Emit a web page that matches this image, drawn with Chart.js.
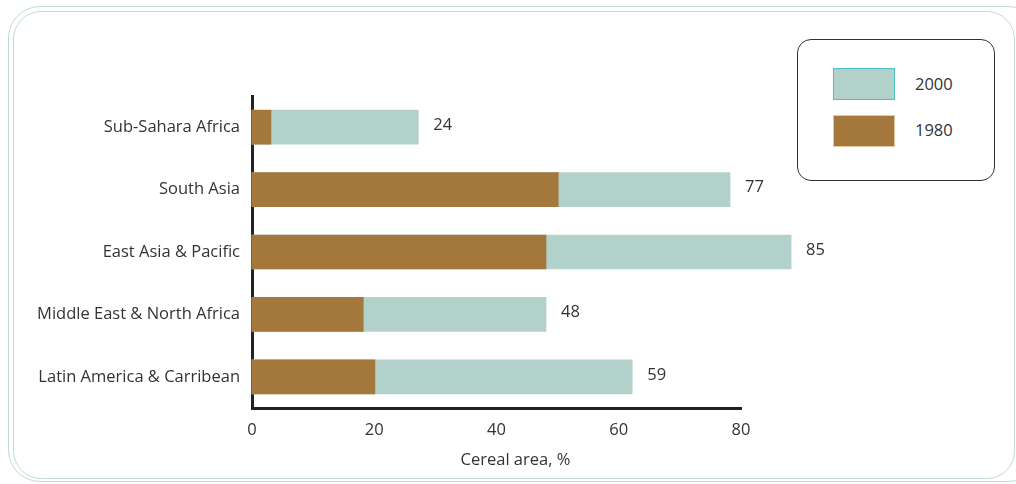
<!DOCTYPE html>
<html>
<head>
<meta charset="utf-8">
<script src="https://cdn.jsdelivr.net/npm/chart.js@4/dist/chart.umd.min.js"></script>
<style>
  html, body { margin: 0; padding: 0; background: #fff; }
  #wrap { position: relative; width: 1016px; height: 484px; overflow: hidden; font-family: "Open Sans", sans-serif; }
  .frame { position: absolute; border: 1.5px solid #bddcd5; border-radius: 32px; }
  #outer { left: 8px; top: 6px; width: 1030px; height: 474px; }
  #inner { left: 13px; top: 11px; width: 1000px; height: 466px; border-radius: 28px; }
  #chart { position: absolute; left: 0; top: 0; }
  #legend { position: absolute; left: 797px; top: 39px; width: 196px; height: 140px;
            border: 1.5px solid #333; border-radius: 14px; background: #fff; }
  .sw { position: absolute; left: 35px; width: 60px; height: 30px; }
  .lab { position: absolute; left: 117px; font-size: 16.5px; color: #333; line-height: 22px; }
</style>
</head>
<body>
<div id="wrap">
  <div class="frame" id="outer"></div>
  <div class="frame" id="inner"></div>
  <canvas id="chart" width="1016" height="484"></canvas>
  <div id="legend"></div>
</div>
<script>
const categories = ['Sub-Sahara Africa', 'South Asia', 'East Asia & Pacific', 'Middle East & North Africa', 'Latin America & Carribean'];
const values2000 = [27.2, 78.2, 88.2, 48.1, 62.2];
const values1980 = [3.1, 50.1, 48.1, 18.2, 20.1];
const barLabels = ['24', '77', '85', '48', '59'];
const xTicks = [0, 20, 40, 60, 80];
const axisTitle = 'Cereal area, %';

const COLORS = {
  Y2000: '#b2d1ca',
  Y2000_EDGE: '#4dbdbd',
  Y1980: '#a4773c',
  TEXT: '#333333',
  AXIS: '#222222',
};
const FONT = '"Open Sans", sans-serif';
const FONT_SIZE = 16.5;

const series = [
  { label: '2000', data: values2000, color: COLORS.Y2000, edge: COLORS.Y2000_EDGE, order: 1 },
  { label: '1980', data: values1980, color: COLORS.Y1980, edge: '#e3c9a4', order: 0 },
];

// legend box
const legendEl = document.getElementById('legend');
series.forEach((s, i) => {
  const sw = document.createElement('div');
  sw.className = 'sw';
  sw.style.top = (28 + i * 47) + 'px';
  sw.style.background = s.color;
  sw.style.border = '1px solid ' + s.edge;
  legendEl.appendChild(sw);
  const lab = document.createElement('div');
  lab.className = 'lab';
  lab.style.top = (33 + i * 46) + 'px';
  lab.textContent = s.label;
  legendEl.appendChild(lab);
});

const valueLabels = {
  id: 'valueLabels',
  afterDatasetsDraw(chart) {
    const ctx = chart.ctx;
    const meta = chart.getDatasetMeta(0);
    ctx.save();
    ctx.font = FONT_SIZE + 'px ' + FONT;
    ctx.fillStyle = COLORS.TEXT;
    ctx.textAlign = 'left';
    ctx.textBaseline = 'middle';
    meta.data.forEach((bar, i) => {
      ctx.fillText(barLabels[i], bar.x + 15, bar.y - 2);
    });
    // axis title, sits a little right of the axis centre
    const xs = chart.scales.x;
    ctx.textAlign = 'center';
    ctx.fillText(axisTitle, (xs.left + xs.right) / 2 + 19, 460);
    ctx.restore();
  },
};

new Chart(document.getElementById('chart'), {
  type: 'bar',
  data: {
    labels: categories,
    datasets: series.map((s) => ({
      label: s.label,
      data: s.data,
      backgroundColor: s.color,
      borderWidth: 0,
      barThickness: 34,
      grouped: false,
      order: s.order,
      clip: false,
    })),
  },
  options: {
    indexAxis: 'y',
    responsive: false,
    animation: false,
    layout: { padding: { left: 0, top: 96, right: 275, bottom: 0 } },
    plugins: { legend: { display: false }, tooltip: { enabled: false } },
    scales: {
      x: {
        min: 0,
        max: 80,
        afterBuildTicks: (scale) => { scale.ticks = xTicks.map((v) => ({ value: v })); },
        afterFit: (scale) => { scale.height = 76; },
        grid: { display: false, drawTicks: false },
        border: { display: true, color: COLORS.AXIS, width: 3 },
        ticks: { color: COLORS.TEXT, font: { family: FONT, size: FONT_SIZE }, padding: 12 },
      },
      y: {
        afterFit: (scale) => { scale.width = 252; },
        grid: { display: false, drawTicks: false },
        border: { display: true, color: COLORS.AXIS, width: 3 },
        ticks: { color: COLORS.TEXT, font: { family: FONT, size: FONT_SIZE }, padding: 12 },
      },
    },
  },
  plugins: [valueLabels],
});
</script>
</body>
</html>
